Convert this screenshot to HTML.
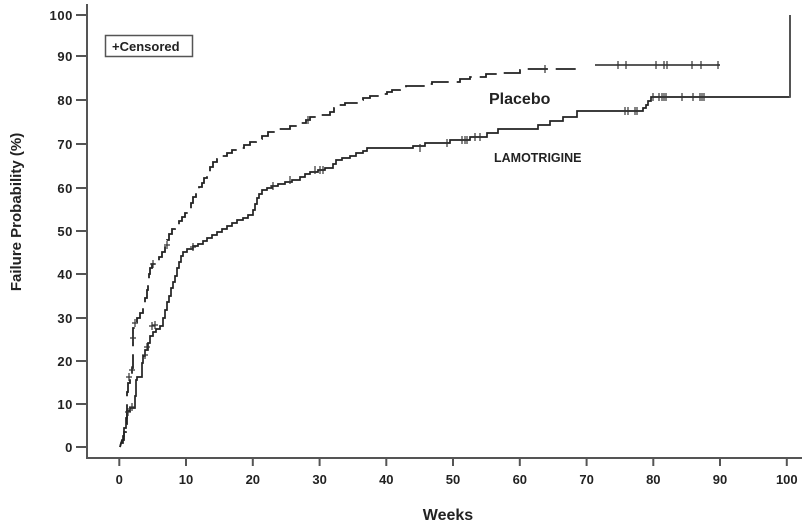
<!DOCTYPE html>
<html>
<head>
<meta charset="utf-8">
<style>
html,body{margin:0;padding:0;background:#fff;}
svg{display:block;}
text{font-family:"Liberation Sans",Arial,sans-serif;font-weight:bold;fill:#222;}
</style>
</head>
<body>
<svg width="809" height="525" viewBox="0 0 809 525" xmlns="http://www.w3.org/2000/svg">
<rect width="809" height="525" fill="#fff"/>
<!-- axes -->
<g stroke="#555" stroke-width="2" fill="none">
  <line x1="87" y1="4" x2="87" y2="459"/>
  <line x1="86" y1="458" x2="802" y2="458"/>
  <!-- y ticks -->
  <line x1="76" y1="15" x2="87" y2="15"/>
  <line x1="76" y1="56" x2="87" y2="56"/>
  <line x1="76" y1="100" x2="87" y2="100"/>
  <line x1="76" y1="144" x2="87" y2="144"/>
  <line x1="76" y1="188" x2="87" y2="188"/>
  <line x1="76" y1="231" x2="87" y2="231"/>
  <line x1="76" y1="274" x2="87" y2="274"/>
  <line x1="76" y1="318" x2="87" y2="318"/>
  <line x1="76" y1="361" x2="87" y2="361"/>
  <line x1="76" y1="404" x2="87" y2="404"/>
  <line x1="76" y1="447" x2="87" y2="447"/>
  <!-- x ticks -->
  <line x1="119.3" y1="458" x2="119.3" y2="466"/>
  <line x1="186" y1="458" x2="186" y2="466"/>
  <line x1="252.8" y1="458" x2="252.8" y2="466"/>
  <line x1="319.6" y1="458" x2="319.6" y2="466"/>
  <line x1="386.3" y1="458" x2="386.3" y2="466"/>
  <line x1="453" y1="458" x2="453" y2="466"/>
  <line x1="519.8" y1="458" x2="519.8" y2="466"/>
  <line x1="586.6" y1="458" x2="586.6" y2="466"/>
  <line x1="653.3" y1="458" x2="653.3" y2="466"/>
  <line x1="720" y1="458" x2="720" y2="466"/>
  <line x1="786.8" y1="458" x2="786.8" y2="466"/>
</g>
<!-- y labels -->
<g font-size="13" text-anchor="end" letter-spacing="0.6">
  <text x="73" y="20">100</text>
  <text x="73" y="61">90</text>
  <text x="73" y="105">80</text>
  <text x="73" y="149">70</text>
  <text x="73" y="193">60</text>
  <text x="73" y="236">50</text>
  <text x="73" y="279">40</text>
  <text x="73" y="323">30</text>
  <text x="73" y="366">20</text>
  <text x="73" y="409">10</text>
  <text x="73" y="452">0</text>
</g>
<!-- x labels -->
<g font-size="13" text-anchor="middle">
  <text x="119.3" y="484">0</text>
  <text x="186" y="484">10</text>
  <text x="252.8" y="484">20</text>
  <text x="319.6" y="484">30</text>
  <text x="386.3" y="484">40</text>
  <text x="453" y="484">50</text>
  <text x="519.8" y="484">60</text>
  <text x="586.6" y="484">70</text>
  <text x="653.3" y="484">80</text>
  <text x="720" y="484">90</text>
  <text x="786.8" y="484">100</text>
</g>
<!-- axis titles -->
<text x="448" y="520" font-size="16" text-anchor="middle">Weeks</text>
<text transform="translate(21,212) rotate(-90)" font-size="15" text-anchor="middle">Failure Probability (%)</text>
<!-- legend -->
<rect x="105.5" y="35.5" width="87" height="21" fill="#fff" stroke="#555" stroke-width="1.5"/>
<text x="112" y="51" font-size="13">+Censored</text>
<!-- series labels -->
<text x="489" y="104" font-size="16">Placebo</text>
<text x="494" y="162" font-size="12.5">LAMOTRIGINE</text>

<!-- Lamotrigine (solid) -->
<polyline fill="none" stroke="#222" stroke-width="1.7" points="120,447 121,443 123,443 123,436 124,436 124,428 126,428 126,418 127,418 127,411 130,411 130,408 135,408 135,396 136,396 136,380 137,380 137,377 142,377 142,363 143,363 143,356 145,356 145,350 148,350 148,343 150,343 150,336 153,336 153,332 156,332 156,329 160,329 160,326 163,326 163,318 165,318 165,310 167,310 167,302 169,302 169,296 171,296 171,288 173,288 173,282 175,282 175,276 177,276 177,268 179,268 179,262 181,262 181,256 183,256 183,252 187,252 187,249 193,249 193,246 198,246 198,244 203,244 203,241 207,241 207,238 212,238 212,235 217,235 217,232 222,232 222,229 227,229 227,226 232,226 232,223 237,223 237,220 243,220 243,218 248,218 248,215 253,215 253,210 255,210 255,204 257,204 257,198 259,198 259,194 262,194 262,190 267,190 267,188 272,188 272,186 278,186 278,184 285,184 285,182 292,182 292,180 300,180 300,177 305,177 305,174 310,174 310,172 318,172 318,170 325,170 325,168 333,168 333,164 336,164 336,160 342,160 342,158 350,158 350,156 356,156 356,153 363,153 363,151 367,151 367,148 413,148 413,146 425,146 425,143 450,143 450,140 470,140 470,137 487,137 487,133 498,133 498,129 538,129 538,125 550,125 550,121 563,121 563,117 577,117 577,111 643,111 643,108 646,108 646,105 648,105 648,101 651,101 651,97 790,97"/>
<line x1="790" y1="97.8" x2="790" y2="15" stroke="#555" stroke-width="2"/>

<!-- Placebo (dashed) -->
<polyline fill="none" stroke="#222" stroke-width="1.8" stroke-dasharray="20 8" points="120,447 122,440 124,440 124,432 126,432 126,424 127,424 127,392 128,392 128,383 130,383 130,375 132,375 132,368 133,368 133,328 135,328 135,322 137,322 137,318 140,318 140,313 143,313 143,305 145,305 145,298 147,298 147,290 148,290 148,282 149,282 149,274 150,274 150,268 152,268 152,264 156,264 156,261 159,261 159,257 162,257 162,252 165,252 165,246 167,246 167,240 169,240 169,234 172,234 172,229 175,229 175,225 179,225 179,221 182,221 182,217 185,217 185,213 188,213 188,209 191,209 191,203 193,203 193,197 196,197 196,192 199,192 199,187 202,187 202,183 204,183 204,178 207,178 207,172 210,172 210,167 213,167 213,162 217,162 217,159 222,159 222,156 227,156 227,153 232,153 232,150 238,150 238,148 244,148 244,145 250,145 250,142 256,142 256,139 262,139 262,136 268,136 268,132 275,132 275,129 290,129 290,126 297,126 297,123 306,123 306,120 310,120 310,117 318,117 318,115 330,115 330,112 334,112 334,108 338,108 338,105 345,105 345,103 358,103 358,100 363,100 363,98 370,98 370,96 380,96 380,94 387,94 387,92 392,92 392,90 400,90 400,89 406,89 406,86 428,86 428,84 432,84 432,82 460,82 460,79 470,79 470,77 486,77 486,74 497,74 497,73 520,73 520,70 527,70 527,69 580,69 580,66"/>
<line x1="595" y1="65" x2="720" y2="65" stroke="#222" stroke-width="1.6"/>

<!-- censor marks -->
<g stroke="#333" stroke-width="1.2" fill="none">
  <!-- placebo -->
  <path d="M129,373v8M126,377h6 M132,366v8M129,370h6 M133,334v8M130,338h6 M135,319v8M132,323h6 M153,260v8M150,264h6 M167,241v8M164,245h6 M308,116v8M305,120h6 M545,65v8M542,69h6
           M618,61v8 M626,61v8 M656,61v8 M664,61v8 M667,61v8 M692,61v8 M701,61v8 M718,61v8"/>
  <!-- lamotrigine -->
  <path d="M132,403v8M129,407h6 M128,408v8M125,412h6 M145,351v8M142,355h6 M147,343v8M144,347h6 M152,322v8M149,326h6 M155,321v8M152,325h6 M193,243v8M190,247h6 M273,182v8M270,186h6 M290,176v8 M315,166v8 M320,166v8 M323,166v8
           M420,144v8 M447,139v8 M462,136v8 M465,136v8 M467,136v8 M475,133v8 M480,133v8
           M625,107v8 M628,107v8 M635,107v8 M637,107v8 M653,93v8 M659,93v8 M662,93v8 M664,93v8 M666,93v8 M682,93v8 M693,93v8 M700,93v8 M702,93v8 M704,93v8"/>
</g>
</svg>
</body>
</html>
